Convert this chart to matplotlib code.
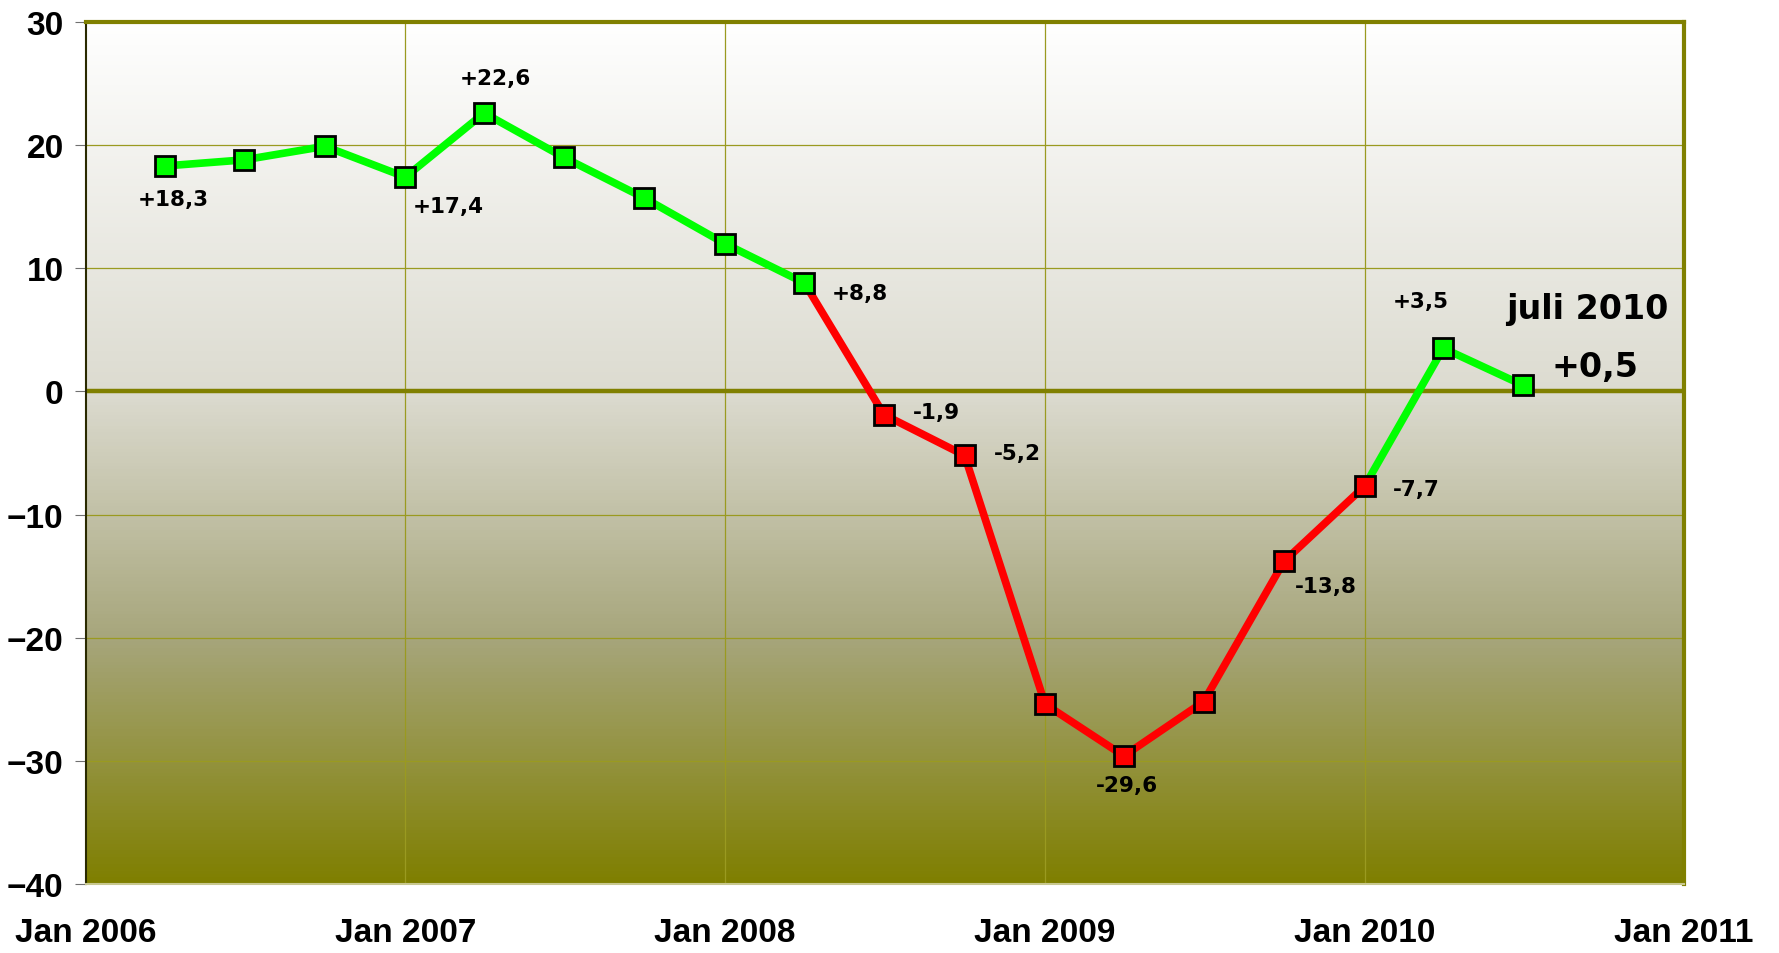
import numpy as np
import pandas as pd
import matplotlib
matplotlib.use("Agg")
import matplotlib.pyplot as plt
import matplotlib.dates as mdates
from matplotlib.colors import LinearSegmentedColormap

# quarterly values, Apr 2006 .. Jul 2010
dates = pd.date_range("2006-04-01", "2010-07-01", freq="QS-JAN")
values = [18.3, 18.8, 19.9, 17.4, 22.6, 19.0, 15.7, 12.0, 8.8,
          -1.9, -5.2, -25.4, -29.6, -25.2, -13.8, -7.7, 3.5, 0.5]

# which points get a label, and where (offset in points)
labels = {0: "+18,3", 3: "+17,4", 4: "+22,6", 8: "+8,8", 9: "-1,9",
          10: "-5,2", 12: "-29,6", 14: "-13,8", 15: "-7,7", 16: "+3,5"}
offsets = {0: (6, -24), 3: (31, -21), 4: (8, 25), 8: (40, -7), 9: (38, 2),
           10: (38, 2), 12: (2, -21), 14: (30, -18), 15: (37, -2), 16: (-16, 34)}

GREEN = "#00ff00"
RED = "#ff0000"
OLIVE = "#808000"

fig = plt.figure(figsize=(17.79, 9.54), dpi=100)
ax = fig.add_axes([0.0483, 0.0723, 0.8983, 0.9037])

x0 = mdates.date2num(pd.Timestamp("2006-01-01"))
x1 = mdates.date2num(pd.Timestamp("2011-01-01"))
ax.set_xlim(x0, x1)
ax.set_ylim(-40, 30)

# background gradient
cmap = LinearSegmentedColormap.from_list(
    "bg", [(0.0, "#ffffff"), (0.43, "#dcdbd0"), (0.72, "#a6a57a"), (1.0, "#7f7f00")])
grad = np.linspace(0, 1, 256).reshape(-1, 1)
ax.imshow(grad, cmap=cmap, aspect="auto", extent=[x0, x1, -40, 30],
          origin="upper", zorder=0)

# grid
for y in range(-30, 30, 10):
    if y != 0:
        ax.axhline(y, color="#9a9a20", lw=0.9, zorder=1)
for yr in range(2007, 2011):
    ax.axvline(mdates.date2num(pd.Timestamp(f"{yr}-01-01")), color="#9a9a20", lw=0.9, zorder=1)
ax.axhline(0, color=OLIVE, lw=3.2, zorder=2)

# line segments coloured by end value
xs = mdates.date2num(dates)
for i in range(1, len(values)):
    c = GREEN if values[i] >= 0 else RED
    ax.plot(xs[i - 1:i + 1], values[i - 1:i + 1], color=c, lw=5.5, zorder=3,
            solid_capstyle="round")
for i, v in enumerate(values):
    c = GREEN if v >= 0 else RED
    ax.plot(xs[i], v, marker="s", ms=14, mfc=c, mec="black", mew=2, zorder=4)

for i, t in labels.items():
    ax.annotate(t, (xs[i], values[i]), xytext=offsets[i], textcoords="offset points",
                ha="center", va="center", fontsize=15.5, fontweight="bold",
                family="DejaVu Sans", zorder=5)

ax.text(0.9396, 0.668, "juli 2010", transform=ax.transAxes, ha="center", va="center",
        fontsize=24, fontweight="bold", family="DejaVu Sans")
ax.text(0.944, 0.60, "+0,5", transform=ax.transAxes, ha="center", va="center",
        fontsize=24, fontweight="bold", family="DejaVu Sans")

# axes styling
ax.spines["top"].set_color(OLIVE)
ax.spines["top"].set_linewidth(3)
ax.spines["right"].set_color(OLIVE)
ax.spines["right"].set_linewidth(3)
ax.spines["left"].set_color("#2a2a00")
ax.spines["left"].set_linewidth(1.5)
ax.spines["bottom"].set_color("#c8c890")
ax.spines["bottom"].set_linewidth(1.5)

ax.set_yticks(range(-40, 31, 10))
ax.set_xticks(mdates.date2num([pd.Timestamp(f"{yr}-01-01") for yr in range(2006, 2012)]))
ax.xaxis.set_major_formatter(mdates.DateFormatter("%b %Y"))
ax.tick_params(axis="y", length=8, color="#707070", pad=8)
ax.tick_params(axis="x", length=0, pad=24)
for lab in ax.get_yticklabels() + ax.get_xticklabels():
    lab.set_family(["Liberation Sans", "DejaVu Sans"])
    lab.set_fontweight("bold")
    lab.set_fontsize(24)

fig.savefig("out.png", dpi=100)
